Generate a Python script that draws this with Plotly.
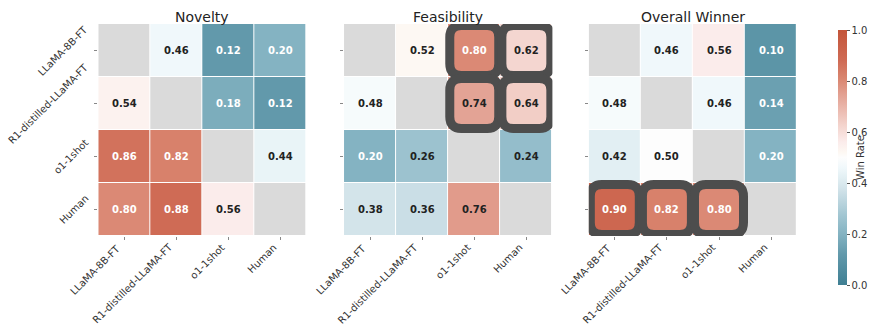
import plotly.graph_objects as go

models = ["LLaMA-8B-FT", "R1-distilled-LLaMA-FT", "o1-1shot", "Human"]
titles = ["Novelty", "Feasibility", "Overall Winner"]

novelty = [
    [None, 0.46, 0.12, 0.20],
    [0.54, None, 0.18, 0.12],
    [0.86, 0.82, None, 0.44],
    [0.80, 0.88, 0.56, None],
]
feasibility = [
    [None, 0.52, 0.80, 0.62],
    [0.48, None, 0.74, 0.64],
    [0.20, 0.26, None, 0.24],
    [0.38, 0.36, 0.76, None],
]
overall = [
    [None, 0.46, 0.56, 0.10],
    [0.48, None, 0.46, 0.14],
    [0.42, 0.50, None, 0.20],
    [0.90, 0.82, 0.80, None],
]
matrices = [novelty, feasibility, overall]

# highlighted cells (row, col) per panel
highlights = [[], [(0, 2), (0, 3), (1, 2), (1, 3)], [(3, 0), (3, 1), (3, 2)]]

colorscale = [
    [0.00, "#3f7f93"], [0.12, "#6299ab"], [0.20, "#84b3c2"], [0.27, "#a0c5d1"],
    [0.37, "#cfe1e8"], [0.42, "#e2eff3"], [0.46, "#f0f8fb"], [0.50, "#fdfdfd"],
    [0.52, "#fdf8f3"], [0.56, "#fbeceb"], [0.63, "#f3d2cb"], [0.75, "#e29f90"],
    [0.81, "#d9856f"], [0.88, "#cf6b55"], [1.00, "#c3553a"],
]
FONT = "DejaVu Sans"
LBL = "#333"
W, H = 878, 326

# panel layout in pixels
panels_px = [(100, 312), (350, 562), (599, 811)]
top_px, bot_px = 24, 236

fig = go.Figure()
idx = list(range(len(models)))
diag = [[1 if i == j else None for j in idx] for i in idx]

for k, (mat, (x0, x1)) in enumerate(zip(matrices, panels_px)):
    ax = "" if k == 0 else str(k + 1)
    xa, ya = "x" + ax, "y" + ax
    fig.add_trace(go.Heatmap(z=diag, x=idx, y=idx, xaxis=xa, yaxis=ya,
                             colorscale=[[0, "#dadada"], [1, "#dadada"]],
                             showscale=False, xgap=1, ygap=1, hoverinfo="skip"))
    fig.add_trace(go.Heatmap(z=mat, x=idx, y=idx, xaxis=xa, yaxis=ya,
                             colorscale=colorscale, zmin=0, zmax=1,
                             xgap=1, ygap=1, showscale=(k == 2),
                             colorbar=dict(
                                 x=842 / W, xanchor="left", xref="paper",
                                 y=1 - 157.5 / H, yanchor="middle",
                                 len=275, lenmode="pixels", thickness=9,
                                 outlinewidth=0, ticks="outside", ticklen=3,
                                 tickcolor="#555", tickvals=[0, 0.2, 0.4, 0.6, 0.8, 1.0],
                                 tickformat=".1f",
                                 tickfont=dict(family=FONT, size=10, color=LBL),
                             )))
    xkey = "xaxis" + ax
    ykey = "yaxis" + ax
    fig.update_layout(**{
        xkey: dict(domain=[x0 / W, x1 / W], anchor=ya, range=[-0.5, 3.5],
                   tickvals=idx, showticklabels=False,
                   ticks="outside", ticklen=3, tickcolor="#888",
                   showgrid=False, zeroline=False, showline=False),
        ykey: dict(domain=[1 - bot_px / H, 1 - top_px / H], anchor=xa, range=[3.5, -0.5],
                   tickvals=idx, showticklabels=False,
                   ticks="outside", ticklen=3, tickcolor="#888",
                   showgrid=False, zeroline=False, showline=False),
    })
    fig.add_annotation(text=titles[k], xref=xa + " domain", yref=ya + " domain",
                       x=0.5, y=1.0, yanchor="bottom", xanchor="center", showarrow=False,
                       font=dict(family=FONT, size=14, color="#222"), yshift=-3)
    # x tick labels
    for j, name in enumerate(models):
        fig.add_annotation(text=name, x=j, y=0, xref=xa, yref=ya + " domain",
                           xanchor="right", yanchor="top", textangle=-45,
                           showarrow=False, yshift=-3, xshift=1,
                           font=dict(family=FONT, size=10, color=LBL))
    # y tick labels (first panel only)
    if k == 0:
        for i, name in enumerate(models):
            fig.add_annotation(text=name, x=0, y=i, xref=xa + " domain", yref=ya,
                               xanchor="right", yanchor="middle", textangle=-45,
                               showarrow=False, xshift=-5,
                               font=dict(family=FONT, size=10, color=LBL))
    for i in idx:
        for j in idx:
            v = mat[i][j]
            if v is None:
                continue
            col = "white" if (v <= 0.22 or v >= 0.78) else "#222"
            fig.add_annotation(text="<b>%.2f</b>" % v, x=j, y=i, xref=xa, yref=ya,
                               showarrow=False, font=dict(family=FONT, size=10, color=col))
    h, r = 0.47, 0.22
    for (i, j) in highlights[k]:
        cx, cy = j, i
        path = (f"M {cx-h+r},{cy-h} L {cx+h-r},{cy-h} Q {cx+h},{cy-h} {cx+h},{cy-h+r} "
                f"L {cx+h},{cy+h-r} Q {cx+h},{cy+h} {cx+h-r},{cy+h} "
                f"L {cx-h+r},{cy+h} Q {cx-h},{cy+h} {cx-h},{cy+h-r} "
                f"L {cx-h},{cy-h+r} Q {cx-h},{cy-h} {cx-h+r},{cy-h} Z")
        fig.add_shape(type="path", path=path, xref=xa, yref=ya,
                      line=dict(color="#4d4d4d", width=9))

# colorbar title, placed to the right of the colorbar tick labels
fig.add_annotation(text="Win Rate", xref="paper", yref="paper", x=1.0, y=1 - 157.5 / H,
                   xanchor="left", yanchor="middle", textangle=-90, showarrow=False,
                   xshift=-10, font=dict(family=FONT, size=10, color=LBL))

fig.update_layout(width=W, height=H, margin=dict(l=0, r=0, t=0, b=0),
                  paper_bgcolor="white", plot_bgcolor="white", showlegend=False,
                  font=dict(family=FONT))
fig.write_html("out.html")
